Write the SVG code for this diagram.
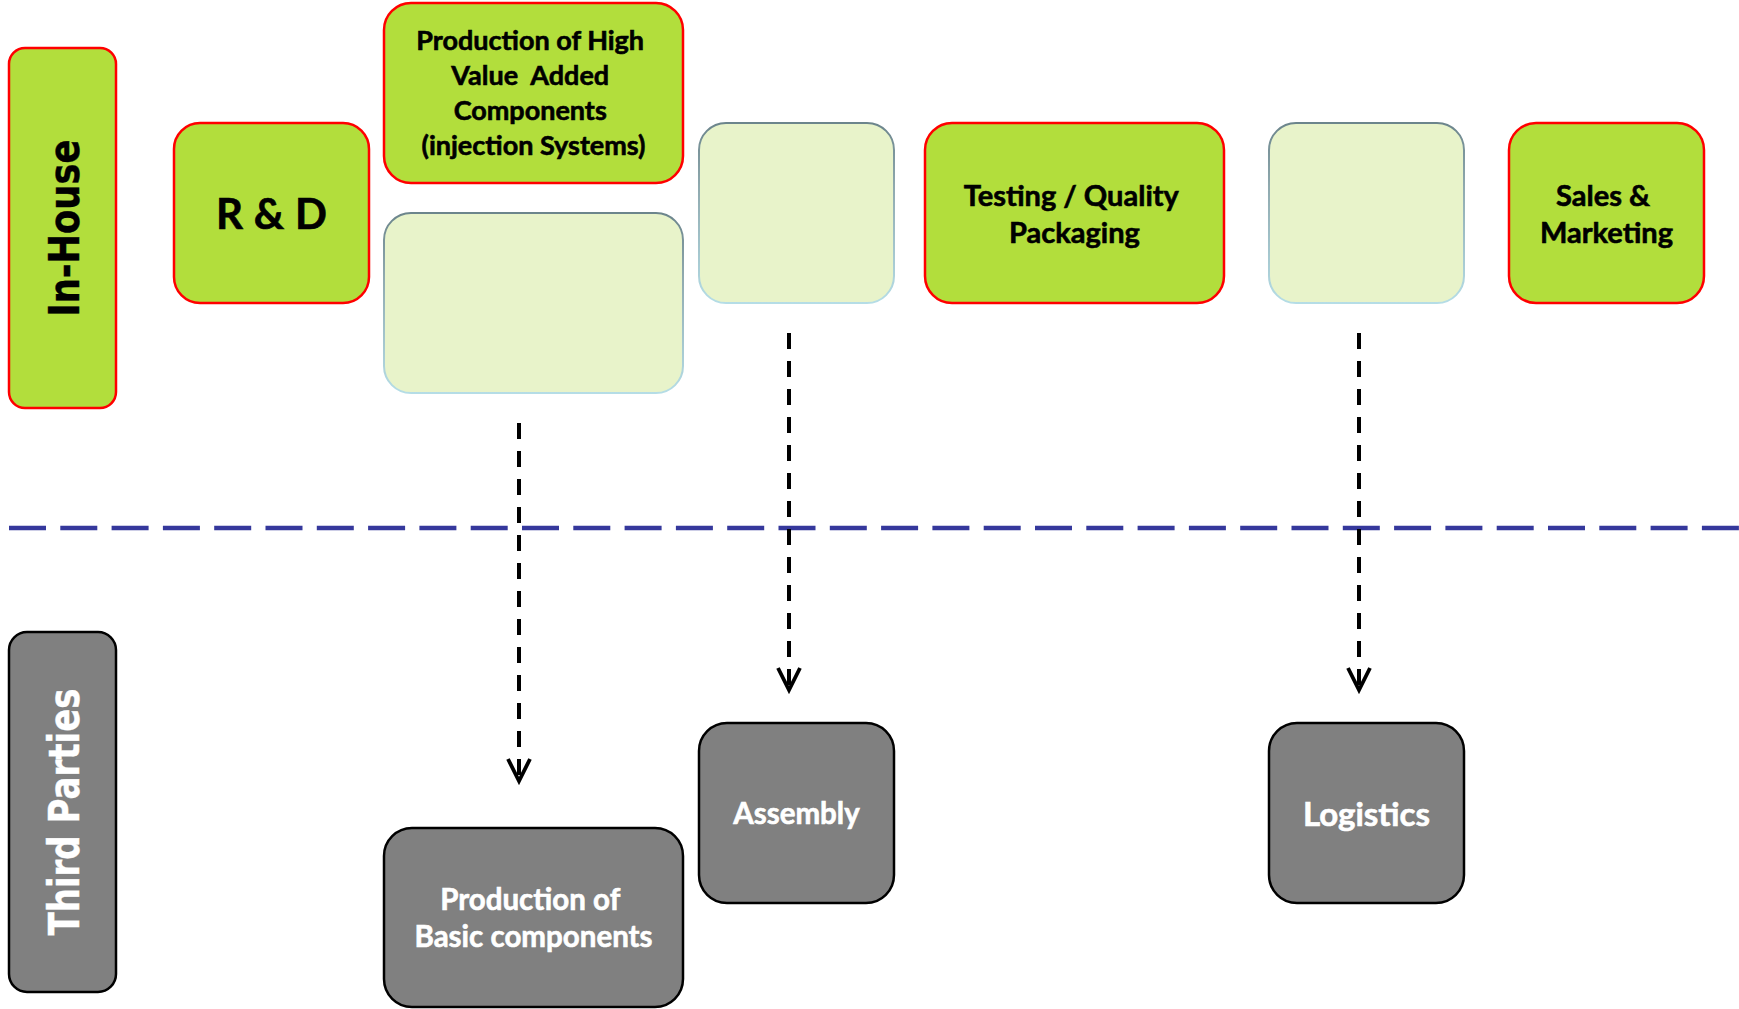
<svg xmlns="http://www.w3.org/2000/svg" width="1739" height="1009" viewBox="0 0 1739 1009">
  <style>
    .inhouse { fill: #b2de3c; stroke: #ff0000; stroke-width: 2.5; }
    .pending { fill: #e8f3ca; stroke: url(#edgeFade); stroke-width: 2; }
    .third { fill: #808080; stroke: #000000; stroke-width: 2.5; }
    .lbl { font-family: Lato, "Liberation Sans", sans-serif; font-weight: 700; text-anchor: middle; stroke-width: 0.6; }
    .dark { fill: #000000; stroke: #000000; }
    .light { fill: #ffffff; stroke: #ffffff; }
    .band { font-family: "DejaVu Sans", Verdana, sans-serif; font-weight: 700; font-size: 43px; text-anchor: middle; stroke-width: 0.4; }
    .flow { fill: none; stroke: #000000; stroke-width: 4; stroke-dasharray: 16 12; }
    .divider { fill: none; stroke: #35389c; stroke-width: 4.5; stroke-dasharray: 37 14.3; }
  </style>
  <defs>
    <linearGradient id="edgeFade" x1="0" y1="0" x2="0" y2="1">
      <stop offset="0" stop-color="#6c858c"/>
      <stop offset="0.35" stop-color="#8fa9ae"/>
      <stop offset="1" stop-color="#b5dde6"/>
    </linearGradient>
    <marker id="vdown" markerUnits="userSpaceOnUse" markerWidth="32" markerHeight="32" viewBox="-16 -28 32 32" refX="0" refY="0" orient="0">
      <path d="M-11,-22 L0,0 L11,-22" fill="none" stroke="#000000" stroke-width="3.8"/>
    </marker>
  </defs>

  <rect width="1739" height="1009" fill="#ffffff"/>

  <!-- swim-lane divider -->
  <g id="divider">
    <line class="divider" x1="9" y1="528" x2="1739" y2="528"/>
  </g>

  <!-- lane headers -->
  <g id="lane-inhouse">
    <rect class="inhouse" x="9" y="48" width="107" height="360" rx="16"/>
    <text class="band dark" transform="translate(79,228) rotate(-90)" x="0" y="0" textLength="177" lengthAdjust="spacingAndGlyphs">In-House</text>
  </g>
  <g id="lane-third">
    <rect class="third" x="9" y="632" width="107" height="360" rx="18"/>
    <text class="band light" transform="translate(79,812) rotate(-90)" x="0" y="0" textLength="247" lengthAdjust="spacingAndGlyphs">Third Parties</text>
  </g>

  <!-- in-house activities -->
  <g id="rnd">
    <rect class="inhouse" x="174" y="123" width="195" height="180" rx="26"/>
    <text class="lbl dark" x="271.5" y="229" font-size="42" textLength="111" lengthAdjust="spacing">R &amp; D</text>
  </g>
  <g id="high-value">
    <rect class="inhouse" x="384" y="3" width="299" height="180" rx="27"/>
    <text class="lbl dark" font-size="27">
      <tspan x="533.5" y="50">Production of High</tspan>
      <tspan x="533.5" y="85" xml:space="preserve">Value  Added</tspan>
      <tspan x="533.5" y="120">Components</tspan>
      <tspan x="533.5" y="155">(injection Systems)</tspan>
    </text>
  </g>
  <g id="basic-slot">
    <rect class="pending" x="384" y="213" width="299" height="180" rx="27"/>
  </g>
  <g id="assembly-slot">
    <rect class="pending" x="699" y="123" width="195" height="180" rx="27"/>
  </g>
  <g id="testing">
    <rect class="inhouse" x="925" y="123" width="299" height="180" rx="27"/>
    <text class="lbl dark" font-size="29">
      <tspan x="1074.5" y="206">Testing / Quality</tspan>
      <tspan x="1074.5" y="243">Packaging</tspan>
    </text>
  </g>
  <g id="logistics-slot">
    <rect class="pending" x="1269" y="123" width="195" height="180" rx="27"/>
  </g>
  <g id="sales">
    <rect class="inhouse" x="1509" y="123" width="195" height="180" rx="27"/>
    <text class="lbl dark" font-size="29">
      <tspan x="1606.5" y="206">Sales &amp;</tspan>
      <tspan x="1606.5" y="243">Marketing</tspan>
    </text>
  </g>

  <!-- outsourced activities -->
  <g id="basic">
    <rect class="third" x="384" y="828" width="299" height="179" rx="28"/>
    <text class="lbl light" font-size="29.5">
      <tspan x="533.5" y="910">Production of</tspan>
      <tspan x="533.5" y="947">Basic components</tspan>
    </text>
  </g>
  <g id="assembly">
    <rect class="third" x="699" y="723" width="195" height="180" rx="28"/>
    <text class="lbl light" x="796.5" y="824" font-size="29.5">Assembly</text>
  </g>
  <g id="logistics">
    <rect class="third" x="1269" y="723" width="195" height="180" rx="28"/>
    <text class="lbl light" x="1366.5" y="826" font-size="33">Logistics</text>
  </g>

  <!-- outsourcing connectors -->
  <g id="connectors">
    <line class="flow" x1="519" y1="423" x2="519" y2="781" marker-end="url(#vdown)"/>
    <line class="flow" x1="789" y1="333" x2="789" y2="690" marker-end="url(#vdown)"/>
    <line class="flow" x1="1359" y1="333" x2="1359" y2="690" marker-end="url(#vdown)"/>
  </g>
</svg>
